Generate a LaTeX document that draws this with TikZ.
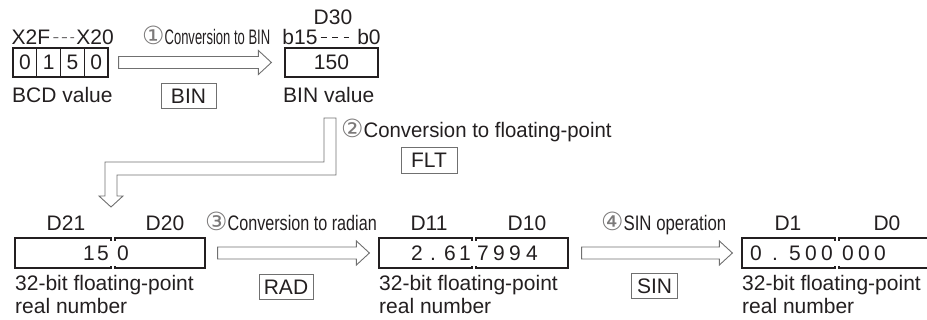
\documentclass[tikz,border=0pt]{standalone}
\usepackage{fontspec}
\usepackage{graphicx}
\setmainfont{Liberation Sans}
\newfontfamily\circfont{DejaVu Sans}
\usetikzlibrary{calc}
\definecolor{cink}{HTML}{231F20}
\definecolor{cgrey}{HTML}{707070}
\tikzset{
  every picture/.style={x=1pt, y=-1pt, font=\fontsize{21}{23}\selectfont, text=cink},
  reg/.style={draw=cink, line width=1.2pt, inner sep=0pt, minimum height=#1},
  reg/.default=30pt,
  txt/.style={inner sep=0pt, anchor=base},
  digit/.style={inner sep=0pt, anchor=base},
  cmd/.style={draw=cgrey, line width=0.9pt, inner sep=0pt, minimum height=#1},
  cmd/.default=25pt,
  fat/.style={draw=cgrey, line width=0.9pt, line join=miter},
  bits/.style={draw=cink, line width=0.8pt},
  stepnote/.style={inner sep=0pt, anchor=base west},
  realnum/.style={inner sep=0pt, anchor=north west, align=left},
}
\newcommand{\circnum}[1]{{\circfont\fontsize{25}{25}\selectfont\color{cink!60}#1}}

\begin{document}
\begin{tikzpicture}
  \useasboundingbox (0,0) rectangle (927,320);
  % hollow arrow from #1 to its tip #2
  \newcommand{\fatarrow}[2]{%
    \draw[fat] ($(#1)+(0,-6)$) -- ($(#2)+(-13,-6)$) -- ($(#2)+(-13,-12)$) -- (#2)
      -- ($(#2)+(-13,12)$) -- ($(#2)+(-13,6)$) -- ($(#1)+(0,6)$) -- cycle;}

  % BCD value X2F..X20
  \node[txt] (x2f) at (31,45) {X2F};
  \node[txt] (x20) at (95,45) {X20};
  \draw[bits, dash pattern=on 5pt off 3.5pt] ($(x2f.east)+(3,0)$) -- ($(x20.west)+(-2,0)$);
  \foreach \v [count=\i from 0] in {0,1,5,0}
    \node[reg=29pt, minimum width=23.75pt] (bcd\i) at (24.875+23.75*\i,62.5) {\v};
  \node[txt, anchor=base west] (bcdval) at (12,103) {BCD value};

  % BIN value D30
  \node[txt] (lD30) at (333,25) {D30};
  \node[txt] (b15) at (300,45) {b15};
  \node[txt] (b0) at (369,45) {b0};
  \draw[bits, dash pattern=on 6pt off 5.5pt] ($(b15.east)+(3,0)$) -- ($(b0.west)+(-8,0)$);
  \node[reg=29pt, minimum width=93pt] (d30) at (331.5,62.5) {150};
  \node[txt, anchor=base west] (binval) at (283,103) {BIN value};

  % step 1
  \coordinate (a1s) at ($(bcd3.east)+(10,0)$);
  \coordinate (a1e) at ($(d30.west)+(-13,0)$);
  \fatarrow{a1s}{a1e}
  \node[stepnote] (s1) at (142,45) {\circnum{①}\scalebox{0.62}[1]{Conversion to BIN}};
  \node[cmd, minimum width=55pt] (bin) at (188.5,96) {BIN};

  % step 2, bent arrow down to D21 D20
  \coordinate (fs) at (330,118);
  \coordinate (fe) at (111,207);
  \draw[fat] ($(fs)+(-6,0)$) -- ($(fs)+(6,0)$) -- ($(fs)+(6,57)$) -- ($(fe)+(6,-32)$)
    -- ($(fe)+(6,-11)$) -- ($(fe)+(12,-11)$) -- (fe) -- ($(fe)+(-12,-11)$)
    -- ($(fe)+(-6,-11)$) -- ($(fe)+(-6,-45)$) -- ($(fs)+(-6,44)$) -- cycle;
  \node[stepnote] (s2) at (341,138) {\circnum{②}\scalebox{0.97}[1]{Conversion to floating-point}};
  \node[cmd=26pt, minimum width=56pt] (flt) at (429,160) {FLT};

  % 32-bit registers
  \node[reg, minimum width=96pt] (d21) at (63,253) {};
  \node[reg, minimum width=90pt] (d20) at (160,253) {};
  \node[reg, minimum width=93pt] (d11) at (425.5,253) {};
  \node[reg, minimum width=92pt] (d10) at (522,253) {};
  \node[reg, minimum width=93pt] (d1) at (788.5,253) {};
  \node[reg, minimum width=93pt] (d0) at (885.5,253) {};
  \foreach \hi/\lo in {d21/d20, d11/d10, d1/d0}
    \fill[white] ($(\hi.north east)+(-2,4)$) rectangle ($(\lo.south west)+(2,-3)$);
  \foreach \n/\x in {D21/66, D20/165, D11/429, D10/527, D1/788, D0/887}
    \node[txt] (l\n) at (\x,231) {\n};

  % values
  \foreach \x/\v [count=\i] in {89/1, 103/5, 123/0}
    \node[digit] (v1-\i) at (\x,261) {\v};
  \foreach \x/\v [count=\i] in {417/2, 433/., 450/6, 465/1, 483/7, 499/9, 515/9, 532/4}
    \node[digit] (v2-\i) at (\x,261) {\v};
  \foreach \x/\v [count=\i] in {756/0, 775/., 795/5, 811/0, 827/0, 848/0, 864/0, 880/0}
    \node[digit] (v3-\i) at (\x,261) {\v};

  \node[realnum] (n1) at (15,275) {32-bit floating-point\\real number};
  \node[realnum] (n2) at (379,275) {32-bit floating-point\\real number};
  \node[realnum] (n3) at (742,275) {32-bit floating-point\\real number};

  % step 3
  \coordinate (a3s) at ($(d20.east)+(12,0)$);
  \coordinate (a3e) at ($(d11.west)+(-9,0)$);
  \fatarrow{a3s}{a3e}
  \node[stepnote] (s3) at (205,231) {\circnum{③}\scalebox{0.77}[1]{Conversion to radian}};
  \node[cmd, minimum width=54pt] (rad) at (286,287) {RAD};

  % step 4
  \coordinate (a4s) at ($(d10.east)+(13,0)$);
  \coordinate (a4e) at ($(d1.west)+(-9,0)$);
  \fatarrow{a4s}{a4e}
  \node[stepnote] (s4) at (601,231) {\circnum{④}\scalebox{0.8}[1]{SIN operation}};
  \node[cmd, minimum width=46pt] (sin) at (654.5,286) {SIN};
\end{tikzpicture}
\end{document}
